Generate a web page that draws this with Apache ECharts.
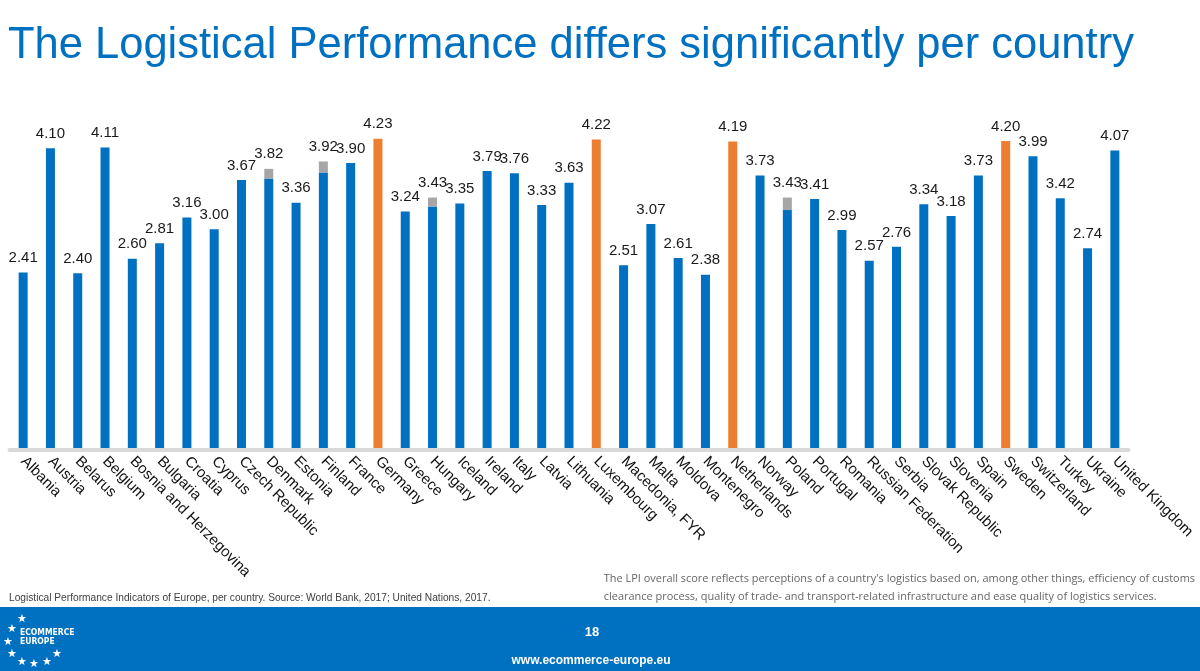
<!DOCTYPE html>
<html>
<head>
<meta charset="utf-8">
<script src="https://cdn.jsdelivr.net/npm/echarts@6/dist/echarts.min.js"></script>
<style>
html,body{margin:0;padding:0;background:#fff;}
#chart{width:1200px;height:671px;}
</style>
</head>
<body>
<div id="chart"></div>
<script>
const countries = ["Albania","Austria","Belarus","Belgium","Bosnia and Herzegovina","Bulgaria","Croatia","Cyprus","Czech Republic","Denmark","Estonia","Finland","France","Germany","Greece","Hungary","Iceland","Ireland","Italy","Latvia","Lithuania","Luxembourg","Macedonia, FYR","Malta","Moldova","Montenegro","Netherlands","Norway","Poland","Portugal","Romania","Russian Federation","Serbia","Slovak Republic","Slovenia","Spain","Sweden","Switzerland","Turkey","Ukraine","United Kingdom"];
const lpiScore = [2.41,4.10,2.40,4.11,2.60,2.81,3.16,3.00,3.67,3.82,3.36,3.92,3.90,4.23,3.24,3.43,3.35,3.79,3.76,3.33,3.63,4.22,2.51,3.07,2.61,2.38,4.19,3.73,3.43,3.41,2.99,2.57,2.76,3.34,3.18,3.73,4.20,3.99,3.42,2.74,4.07];
// grey cap shown on top of some bars (part of the score drawn in grey)
const greyCap = [0,0,0,0,0,0,0,0,0,0.13,0,0.15,0,0,0,0.12,0,0,0,0,0,0,0,0,0,0,0,0,0.17,0,0,0,0,0,0,0,0,0,0,0,0];
const highlighted = ["Germany","Luxembourg","Netherlands","Sweden"];

const BLUE = '#0070c0', ORANGE = '#ed7d31', GREY = '#a6a6a6';

const baseData = countries.map((c, i) => ({
  value: +(lpiScore[i] - greyCap[i]).toFixed(2),
  itemStyle: { color: highlighted.includes(c) ? ORANGE : BLUE }
}));

const chart = echarts.init(document.getElementById('chart'));

const stars = [[22,619],[12,629],[8,642],[12,654],[22,662],[34,664],[47,662],[57,654]];

chart.setOption({
  animation: false,
  grid: { left: 9.5, right: 71.5, top: 82, bottom: 221, containLabel: false },
  xAxis: {
    type: 'category',
    data: countries,
    z: 5,
    axisLine: { lineStyle: { color: '#d9d9d9', width: 4 } },
    axisTick: { show: false },
    axisLabel: {
      interval: 0,
      rotate: -45,
      margin: 9,
      color: '#111',
      fontSize: 15,
      fontFamily: 'Liberation Sans, Arial, sans-serif'
    }
  },
  yAxis: {
    type: 'value', min: 0, max: 5,
    show: false,
    splitLine: { show: false }
  },
  series: [
    {
      type: 'bar', stack: 'lpi', barWidth: 9,
      data: baseData
    },
    {
      type: 'bar', stack: 'lpi', barWidth: 9,
      itemStyle: { color: GREY },
      data: greyCap,
      label: {
        show: true, position: 'top', distance: 7,
        color: '#1a1a1a', fontSize: 15,
        fontFamily: 'Liberation Sans, Arial, sans-serif',
        formatter: p => lpiScore[p.dataIndex].toFixed(2)
      }
    }
  ],
  graphic: [
    { type: 'text', left: 8, top: 24,
      style: { text: 'The Logistical Performance differs significantly per country', fill: BLUE,
        font: '43.5px "Liberation Sans", Arial, sans-serif' } },
    { type: 'text', left: 9, top: 593,
      style: { text: 'Logistical Performance Indicators of Europe, per country. Source: World Bank, 2017; United Nations, 2017.',
        fill: '#404040', font: '10.2px "Liberation Sans", Arial, sans-serif' } },
    { type: 'text', right: 5, top: 570,
      style: { text: "The LPI overall score reflects perceptions of a country's logistics based on, among other things, efficiency of customs\nclearance process, quality of trade- and transport-related infrastructure and ease quality of logistics services.",
        fill: '#666', align: 'right', lineHeight: 18, font: '10.95px "Open Sans", sans-serif' } },
    { type: 'rect', left: 0, top: 607, shape: { width: 1200, height: 64 }, style: { fill: '#0070c0' } },
    { type: 'text', left: 20, top: 628,
      style: { text: 'ECOMMERCE\nEUROPE', fill: '#fff', lineHeight: 9, font: 'bold 8.5px "DejaVu Sans Condensed", sans-serif' } },
    ...stars.map(s => ({ type: 'text', x: s[0], y: s[1],
      style: { text: '★', fill: '#fff', align: 'center', verticalAlign: 'middle', font: '11px "DejaVu Sans", sans-serif' } })),
    { type: 'text', x: 592, y: 632,
      style: { text: '18', fill: '#fff', align: 'center', verticalAlign: 'middle', font: 'bold 13px "Liberation Sans", Arial, sans-serif' } },
    { type: 'text', x: 591, y: 661,
      style: { text: 'www.ecommerce-europe.eu', fill: '#fff', align: 'center', verticalAlign: 'middle', font: 'bold 12px "Liberation Sans Narrow", "Liberation Sans", Arial, sans-serif' } }
  ]
});
</script>
</body>
</html>
